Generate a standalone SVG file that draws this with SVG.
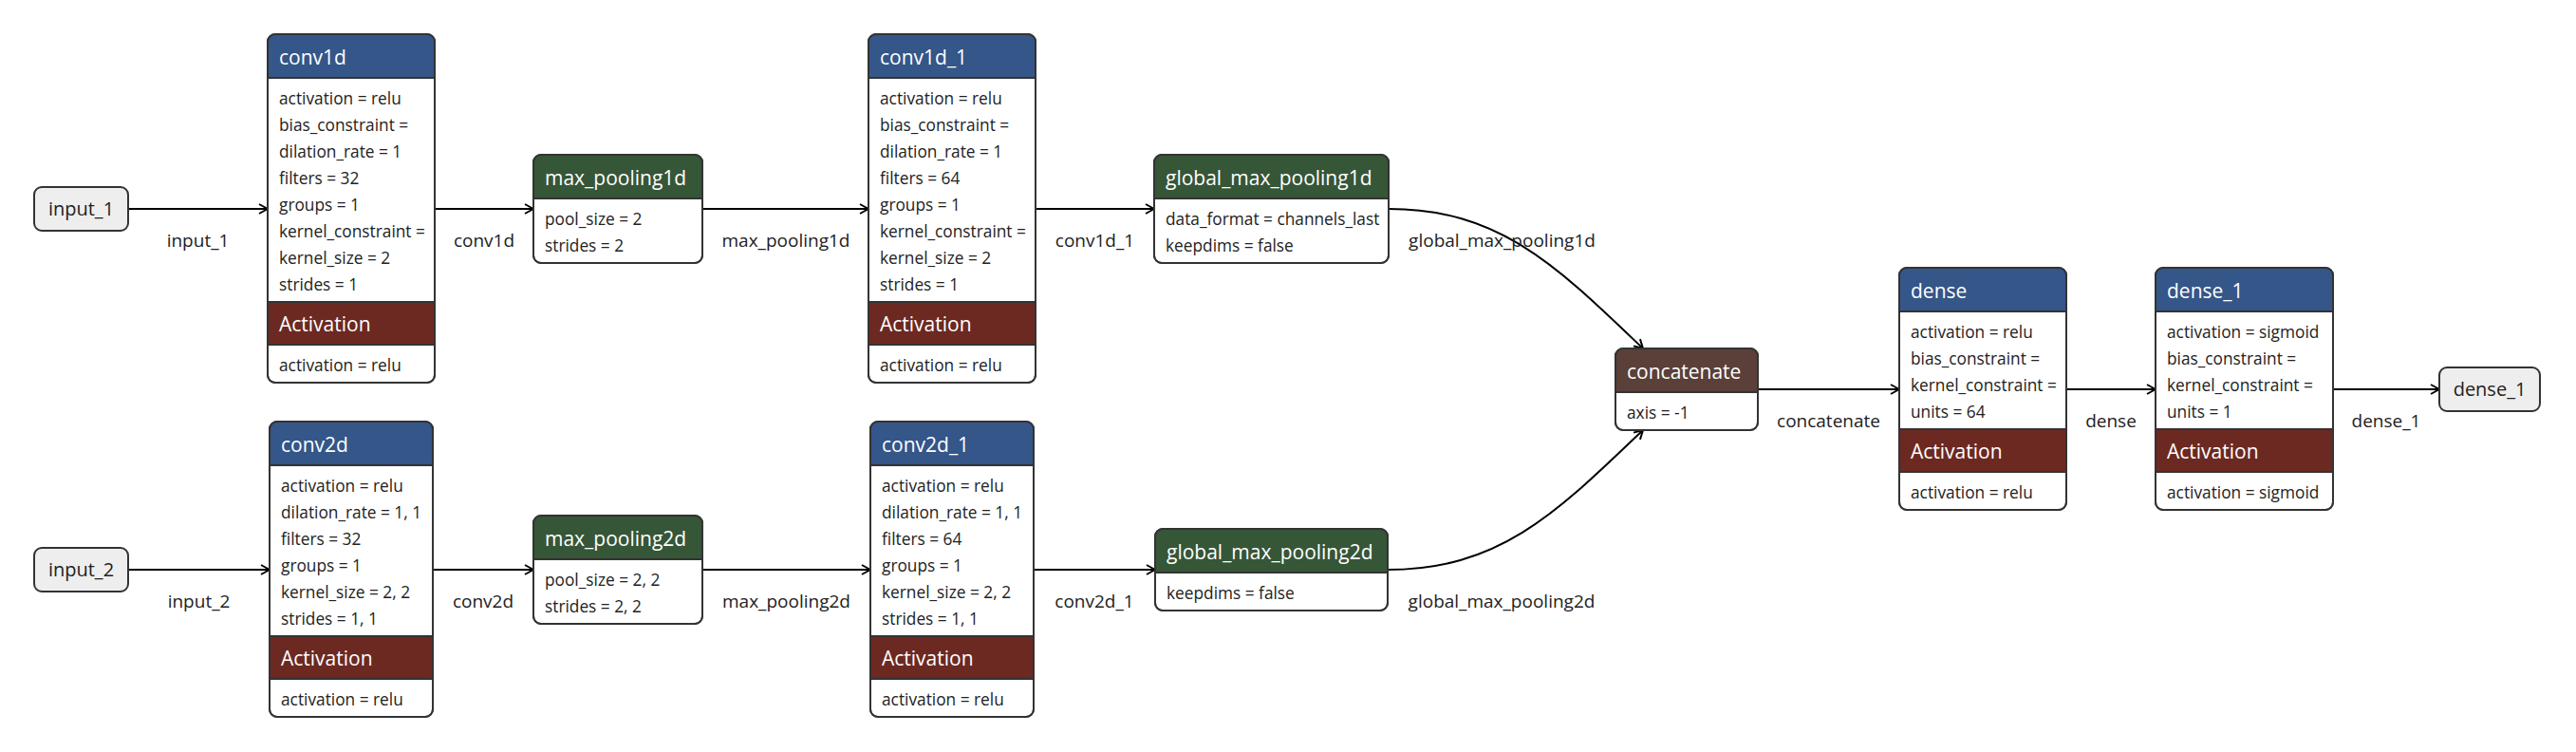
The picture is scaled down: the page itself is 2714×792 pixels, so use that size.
<svg xmlns="http://www.w3.org/2000/svg" width="2714" height="792" viewBox="0 0 2714 792">
<style>
  .bg { fill: #ffffff; }
  .box { fill: #ffffff; stroke: #333333; stroke-width: 2; }
  .frame { fill: none; stroke: #333333; stroke-width: 2; }
  .io { fill: #eeeeee; stroke: #333333; stroke-width: 2; }
  .sep { stroke: #333333; stroke-width: 2; }
  .blue { fill: #345689; }
  .green { fill: #365638; }
  .red { fill: #6c2922; }
  .brown { fill: #5a4039; }
  .hd { font-family: "Open Sans", "Noto Sans", sans-serif; font-size: 21px; fill: #ffffff; }
  .at { font-family: "Open Sans", "Noto Sans", sans-serif; font-size: 17.3px; fill: #222222; }
  .iot { font-family: "Open Sans", "Noto Sans", sans-serif; font-size: 20px; fill: #222222; text-anchor: middle; }
  .lbl { font-family: "Open Sans", "Noto Sans", sans-serif; font-size: 19px; fill: #222222; text-anchor: middle; }
  .edge { fill: none; stroke: #000000; stroke-width: 2; marker-end: url(#arrow); }
</style>
<defs>
  <marker id="arrow" viewBox="0 0 12 12" refX="11" refY="6" markerWidth="12" markerHeight="12" markerUnits="userSpaceOnUse" orient="auto">
    <path d="M2,1 L11,6 L2,11" fill="none" stroke="#000000" stroke-width="2"/>
  </marker>
</defs>
<rect class="bg" x="0" y="0" width="2714" height="792"/>

<g id="connectors">
  <path class="edge" d="M135,220 L282,220"/>
  <path class="edge" d="M458,220 L562,220"/>
  <path class="edge" d="M740,220 L915,220"/>
  <path class="edge" d="M1091,220 L1216,220"/>
  <path class="edge" d="M1463,220 C1580,220 1640,280 1731,367"/>
  <path class="edge" d="M135,600 L284,600"/>
  <path class="edge" d="M456,600 L562,600"/>
  <path class="edge" d="M740,600 L917,600"/>
  <path class="edge" d="M1089,600 L1217,600"/>
  <path class="edge" d="M1462,600 C1580,600 1640,540 1731,453"/>
  <path class="edge" d="M1852,410 L2001,410"/>
  <path class="edge" d="M2177,410 L2271,410"/>
  <path class="edge" d="M2458,410 L2570,410"/>
  <text class="lbl" x="208.5" y="260">input_1</text>
  <text class="lbl" x="510" y="260">conv1d</text>
  <text class="lbl" x="828" y="260">max_pooling1d</text>
  <text class="lbl" x="1153.5" y="260">conv1d_1</text>
  <text class="lbl" x="1582.5" y="260">global_max_pooling1d</text>
  <text class="lbl" x="209.5" y="640">input_2</text>
  <text class="lbl" x="509" y="640">conv2d</text>
  <text class="lbl" x="828.5" y="640">max_pooling2d</text>
  <text class="lbl" x="1153" y="640">conv2d_1</text>
  <text class="lbl" x="1582" y="640">global_max_pooling2d</text>
  <text class="lbl" x="1926.5" y="450">concatenate</text>
  <text class="lbl" x="2224" y="450">dense</text>
  <text class="lbl" x="2514" y="450">dense_1</text>
</g>

<g id="input_1">
  <rect class="io" x="36" y="197" width="99" height="46" rx="8"/>
  <text class="iot" x="85.5" y="227">input_1</text>
</g>

<g id="input_2">
  <rect class="io" x="36" y="577" width="99" height="46" rx="8"/>
  <text class="iot" x="85.5" y="607">input_2</text>
</g>

<g id="conv1d">
  <rect class="box" x="282" y="36" width="176" height="367" rx="8"/>
  <rect class="blue" x="282" y="36" width="176" height="46" rx="8"/>
  <rect class="blue" x="282" y="60" width="176" height="22"/>
  <rect class="red" x="282" y="318" width="176" height="45"/>
  <line class="sep" x1="282" y1="82" x2="458" y2="82"/>
  <line class="sep" x1="282" y1="318" x2="458" y2="318"/>
  <line class="sep" x1="282" y1="363" x2="458" y2="363"/>
  <rect class="frame" x="282" y="36" width="176" height="367" rx="8"/>
  <text class="hd" x="294" y="68">conv1d</text>
  <text class="at" x="294" y="110">activation = relu</text>
  <text class="at" x="294" y="138">bias_constraint =</text>
  <text class="at" x="294" y="166">dilation_rate = 1</text>
  <text class="at" x="294" y="194">filters = 32</text>
  <text class="at" x="294" y="222">groups = 1</text>
  <text class="at" x="294" y="250">kernel_constraint =</text>
  <text class="at" x="294" y="278">kernel_size = 2</text>
  <text class="at" x="294" y="306">strides = 1</text>
  <text class="hd" x="294" y="349">Activation</text>
  <text class="at" x="294" y="391">activation = relu</text>
</g>

<g id="conv2d">
  <rect class="box" x="284" y="444" width="172" height="311" rx="8"/>
  <rect class="blue" x="284" y="444" width="172" height="46" rx="8"/>
  <rect class="blue" x="284" y="468" width="172" height="22"/>
  <rect class="red" x="284" y="670" width="172" height="45"/>
  <line class="sep" x1="284" y1="490" x2="456" y2="490"/>
  <line class="sep" x1="284" y1="670" x2="456" y2="670"/>
  <line class="sep" x1="284" y1="715" x2="456" y2="715"/>
  <rect class="frame" x="284" y="444" width="172" height="311" rx="8"/>
  <text class="hd" x="296" y="476">conv2d</text>
  <text class="at" x="296" y="518">activation = relu</text>
  <text class="at" x="296" y="546">dilation_rate = 1, 1</text>
  <text class="at" x="296" y="574">filters = 32</text>
  <text class="at" x="296" y="602">groups = 1</text>
  <text class="at" x="296" y="630">kernel_size = 2, 2</text>
  <text class="at" x="296" y="658">strides = 1, 1</text>
  <text class="hd" x="296" y="701">Activation</text>
  <text class="at" x="296" y="743">activation = relu</text>
</g>

<g id="max_pooling1d">
  <rect class="box" x="562" y="163" width="178" height="114" rx="8"/>
  <rect class="green" x="562" y="163" width="178" height="46" rx="8"/>
  <rect class="green" x="562" y="187" width="178" height="22"/>
  <line class="sep" x1="562" y1="209" x2="740" y2="209"/>
  <rect class="frame" x="562" y="163" width="178" height="114" rx="8"/>
  <text class="hd" x="574" y="195">max_pooling1d</text>
  <text class="at" x="574" y="237">pool_size = 2</text>
  <text class="at" x="574" y="265">strides = 2</text>
</g>

<g id="max_pooling2d">
  <rect class="box" x="562" y="543" width="178" height="114" rx="8"/>
  <rect class="green" x="562" y="543" width="178" height="46" rx="8"/>
  <rect class="green" x="562" y="567" width="178" height="22"/>
  <line class="sep" x1="562" y1="589" x2="740" y2="589"/>
  <rect class="frame" x="562" y="543" width="178" height="114" rx="8"/>
  <text class="hd" x="574" y="575">max_pooling2d</text>
  <text class="at" x="574" y="617">pool_size = 2, 2</text>
  <text class="at" x="574" y="645">strides = 2, 2</text>
</g>

<g id="conv1d_1">
  <rect class="box" x="915" y="36" width="176" height="367" rx="8"/>
  <rect class="blue" x="915" y="36" width="176" height="46" rx="8"/>
  <rect class="blue" x="915" y="60" width="176" height="22"/>
  <rect class="red" x="915" y="318" width="176" height="45"/>
  <line class="sep" x1="915" y1="82" x2="1091" y2="82"/>
  <line class="sep" x1="915" y1="318" x2="1091" y2="318"/>
  <line class="sep" x1="915" y1="363" x2="1091" y2="363"/>
  <rect class="frame" x="915" y="36" width="176" height="367" rx="8"/>
  <text class="hd" x="927" y="68">conv1d_1</text>
  <text class="at" x="927" y="110">activation = relu</text>
  <text class="at" x="927" y="138">bias_constraint =</text>
  <text class="at" x="927" y="166">dilation_rate = 1</text>
  <text class="at" x="927" y="194">filters = 64</text>
  <text class="at" x="927" y="222">groups = 1</text>
  <text class="at" x="927" y="250">kernel_constraint =</text>
  <text class="at" x="927" y="278">kernel_size = 2</text>
  <text class="at" x="927" y="306">strides = 1</text>
  <text class="hd" x="927" y="349">Activation</text>
  <text class="at" x="927" y="391">activation = relu</text>
</g>

<g id="conv2d_1">
  <rect class="box" x="917" y="444" width="172" height="311" rx="8"/>
  <rect class="blue" x="917" y="444" width="172" height="46" rx="8"/>
  <rect class="blue" x="917" y="468" width="172" height="22"/>
  <rect class="red" x="917" y="670" width="172" height="45"/>
  <line class="sep" x1="917" y1="490" x2="1089" y2="490"/>
  <line class="sep" x1="917" y1="670" x2="1089" y2="670"/>
  <line class="sep" x1="917" y1="715" x2="1089" y2="715"/>
  <rect class="frame" x="917" y="444" width="172" height="311" rx="8"/>
  <text class="hd" x="929" y="476">conv2d_1</text>
  <text class="at" x="929" y="518">activation = relu</text>
  <text class="at" x="929" y="546">dilation_rate = 1, 1</text>
  <text class="at" x="929" y="574">filters = 64</text>
  <text class="at" x="929" y="602">groups = 1</text>
  <text class="at" x="929" y="630">kernel_size = 2, 2</text>
  <text class="at" x="929" y="658">strides = 1, 1</text>
  <text class="hd" x="929" y="701">Activation</text>
  <text class="at" x="929" y="743">activation = relu</text>
</g>

<g id="global_max_pooling1d">
  <rect class="box" x="1216" y="163" width="247" height="114" rx="8"/>
  <rect class="green" x="1216" y="163" width="247" height="46" rx="8"/>
  <rect class="green" x="1216" y="187" width="247" height="22"/>
  <line class="sep" x1="1216" y1="209" x2="1463" y2="209"/>
  <rect class="frame" x="1216" y="163" width="247" height="114" rx="8"/>
  <text class="hd" x="1228" y="195">global_max_pooling1d</text>
  <text class="at" x="1228" y="237">data_format = channels_last</text>
  <text class="at" x="1228" y="265">keepdims = false</text>
</g>

<g id="global_max_pooling2d">
  <rect class="box" x="1217" y="557" width="245" height="86" rx="8"/>
  <rect class="green" x="1217" y="557" width="245" height="46" rx="8"/>
  <rect class="green" x="1217" y="581" width="245" height="22"/>
  <line class="sep" x1="1217" y1="603" x2="1462" y2="603"/>
  <rect class="frame" x="1217" y="557" width="245" height="86" rx="8"/>
  <text class="hd" x="1229" y="589">global_max_pooling2d</text>
  <text class="at" x="1229" y="631">keepdims = false</text>
</g>

<g id="concatenate">
  <rect class="box" x="1702" y="367" width="150" height="86" rx="8"/>
  <rect class="brown" x="1702" y="367" width="150" height="46" rx="8"/>
  <rect class="brown" x="1702" y="391" width="150" height="22"/>
  <line class="sep" x1="1702" y1="413" x2="1852" y2="413"/>
  <rect class="frame" x="1702" y="367" width="150" height="86" rx="8"/>
  <text class="hd" x="1714" y="399">concatenate</text>
  <text class="at" x="1714" y="441">axis = -1</text>
</g>

<g id="dense">
  <rect class="box" x="2001" y="282" width="176" height="255" rx="8"/>
  <rect class="blue" x="2001" y="282" width="176" height="46" rx="8"/>
  <rect class="blue" x="2001" y="306" width="176" height="22"/>
  <rect class="red" x="2001" y="452" width="176" height="45"/>
  <line class="sep" x1="2001" y1="328" x2="2177" y2="328"/>
  <line class="sep" x1="2001" y1="452" x2="2177" y2="452"/>
  <line class="sep" x1="2001" y1="497" x2="2177" y2="497"/>
  <rect class="frame" x="2001" y="282" width="176" height="255" rx="8"/>
  <text class="hd" x="2013" y="314">dense</text>
  <text class="at" x="2013" y="356">activation = relu</text>
  <text class="at" x="2013" y="384">bias_constraint =</text>
  <text class="at" x="2013" y="412">kernel_constraint =</text>
  <text class="at" x="2013" y="440">units = 64</text>
  <text class="hd" x="2013" y="483">Activation</text>
  <text class="at" x="2013" y="525">activation = relu</text>
</g>

<g id="dense_1">
  <rect class="box" x="2271" y="282" width="187" height="255" rx="8"/>
  <rect class="blue" x="2271" y="282" width="187" height="46" rx="8"/>
  <rect class="blue" x="2271" y="306" width="187" height="22"/>
  <rect class="red" x="2271" y="452" width="187" height="45"/>
  <line class="sep" x1="2271" y1="328" x2="2458" y2="328"/>
  <line class="sep" x1="2271" y1="452" x2="2458" y2="452"/>
  <line class="sep" x1="2271" y1="497" x2="2458" y2="497"/>
  <rect class="frame" x="2271" y="282" width="187" height="255" rx="8"/>
  <text class="hd" x="2283" y="314">dense_1</text>
  <text class="at" x="2283" y="356">activation = sigmoid</text>
  <text class="at" x="2283" y="384">bias_constraint =</text>
  <text class="at" x="2283" y="412">kernel_constraint =</text>
  <text class="at" x="2283" y="440">units = 1</text>
  <text class="hd" x="2283" y="483">Activation</text>
  <text class="at" x="2283" y="525">activation = sigmoid</text>
</g>

<g id="dense_1_output">
  <rect class="io" x="2570" y="387" width="106" height="46" rx="8"/>
  <text class="iot" x="2623" y="417">dense_1</text>
</g>
</svg>
